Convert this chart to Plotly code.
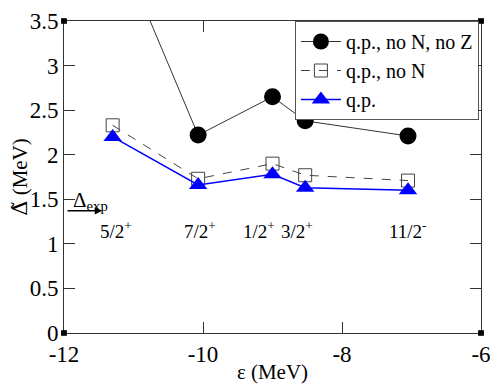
import plotly.graph_objects as go

# single-particle energies (MeV) and gaps
eps = [-11.3, -10.07, -9.0, -8.53, -7.05]
gap_no_nz = [4.5, 2.22, 2.65, 2.38, 2.21]
gap_no_n = [2.33, 1.73, 1.90, 1.77, 1.71]
gap_qp = [2.20, 1.66, 1.78, 1.63, 1.60]
state_labels = ["5/2<sup>+</sup>", "7/2<sup>+</sup>", "1/2<sup>+</sup>", "3/2<sup>+</sup>", "11/2<sup>-</sup>"]
label_x = [-11.25, -10.05, -9.2, -8.65, -7.05]
label_y = 1.16
delta_exp = 1.37
x_ticks = [-12, -10, -8, -6]
y_ticks = [0, 0.5, 1, 1.5, 2, 2.5, 3, 3.5]

FONT = "Liberation Serif"

fig = go.Figure()
fig.add_trace(go.Scatter(
    x=eps, y=gap_no_nz, mode="lines+markers", name="q.p., no N, no Z",
    line=dict(color="#333333", width=1),
    marker=dict(symbol="circle", size=17, color="black"),
))
fig.add_trace(go.Scatter(
    x=eps, y=gap_no_n, mode="lines+markers", name="q.p., no N",
    line=dict(color="#444444", width=1, dash="dash"),
    marker=dict(symbol="square-open", size=13, color="#444444", line=dict(width=1)),
))
fig.add_trace(go.Scatter(
    x=eps, y=gap_qp, mode="lines+markers", name="q.p.",
    line=dict(color="blue", width=1.5),
    marker=dict(symbol="triangle-up", size=16, color="blue"),
))

for lx, lab in zip(label_x, state_labels):
    fig.add_annotation(x=lx, y=label_y, text=lab, showarrow=False,
                       font=dict(family=FONT, size=19, color="black"))

# experimental gap arrow
fig.add_annotation(x=-11.45, y=delta_exp, ax=-11.97, ay=delta_exp,
                   xref="x", yref="y", axref="x", ayref="y",
                   text="", showarrow=True, arrowhead=2, arrowsize=1,
                   arrowwidth=1.5, arrowcolor="black")
fig.add_annotation(x=-11.9, y=delta_exp - 0.06, xanchor="left", yanchor="bottom",
                   text="Δ<sub>exp</sub>", showarrow=False,
                   font=dict(family=FONT, size=21, color="black"))

axis_common = dict(
    showline=True, linecolor="#333333", linewidth=1, mirror="ticks",
    ticks="inside", ticklen=11, tickcolor="#333333", showgrid=False, zeroline=False,
    automargin=False,
    tickfont=dict(family=FONT, size=23, color="black"),
)
fig.update_xaxes(range=[-12, -6], tickvals=x_ticks, ticktext=[str(v) for v in x_ticks],
                 title=dict(text="ε (MeV)", standoff=0,
                            font=dict(family=FONT, size=21, color="black")),
                 **axis_common)
fig.update_yaxes(range=[0, 3.5], tickvals=y_ticks, ticktext=[f"{v:g}" for v in y_ticks],
                 title=dict(text="<span style=\"font-family:DejaVu Serif\">Δ\u0303</span> (MeV)",
                            standoff=12, font=dict(family=FONT, size=21, color="black")),
                 **axis_common)

# small corner squares of the frame
for cx, cy in [(0, 0), (0, 1), (1, 0), (1, 1)]:
    fig.add_shape(type="rect", xref="paper", yref="paper",
                  x0=cx - 0.007, x1=cx + 0.007, y0=cy - 0.009, y1=cy + 0.009,
                  fillcolor="black", line=dict(width=0))

# page body adds an 8px offset, so the figure is 8px smaller and shifted margins
fig.update_layout(
    width=490, height=376,
    margin=dict(l=56, r=17, t=13, b=51),
    plot_bgcolor="white", paper_bgcolor="white",
    font=dict(family=FONT, color="black"),
    legend=dict(x=0.995, y=1.0, xanchor="right", yanchor="top",
                bgcolor="white", bordercolor="#555555", borderwidth=1,
                font=dict(family=FONT, size=20, color="black"),
                itemwidth=40, tracegroupgap=0),
    showlegend=True,
)

fig.write_html("out.html")
